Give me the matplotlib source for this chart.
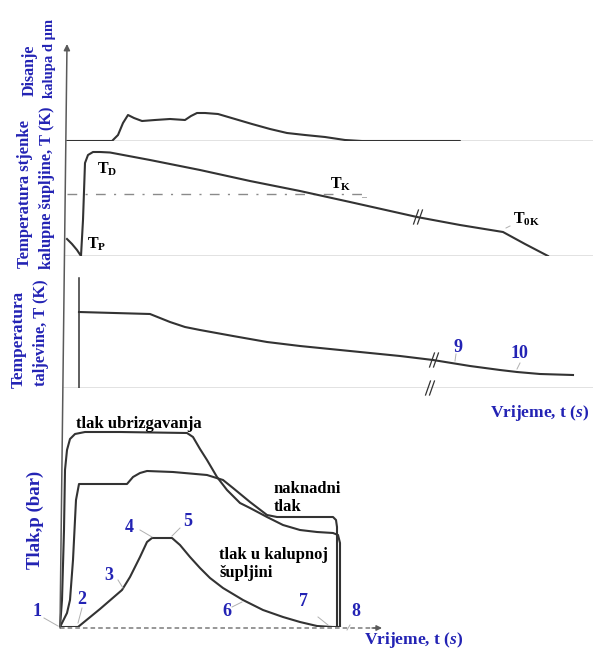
import matplotlib
matplotlib.use("Agg")
import matplotlib.pyplot as plt

plt.rcParams['font.family'] = ['Liberation Serif', 'DejaVu Serif']
plt.rcParams['font.weight'] = 'bold'
plt.rcParams['mathtext.fontset'] = 'custom'
plt.rcParams['mathtext.bf'] = 'Liberation Serif:bold'
plt.rcParams['mathtext.rm'] = 'Liberation Serif:bold'
plt.rcParams['mathtext.it'] = 'Liberation Serif:bold:italic'

# ---------------- data (time in arbitrary units, values = height above baseline) -----
# Panel 1: mould breathing d (µm)
t_breath = [67, 112, 118, 123, 128, 134, 142, 155, 170, 185, 191, 197, 205, 218, 235, 252,
            270, 287, 305, 325, 345, 362, 460]
d_breath = [0, 0, 6, 18, 26, 23, 20, 21, 22, 21, 25, 28, 28, 27, 22, 17, 12, 8, 6, 4, 1, 0, 0]

# Panel 2: mould cavity wall temperature
t_wall = [67, 72, 77, 81, 83, 85, 88, 93, 100, 110, 150, 200, 250, 300, 350, 417, 460, 503,
          525, 548]
T_wall = [17, 12, 6, 0, 36, 93, 101, 104, 104, 103.5, 96, 86, 75, 65, 54, 39, 31, 24, 12, 0]
T_ref_level = 62          # dash-dot reference level
T_ref_span = [67, 365]

# Panel 3: melt temperature
t_melt = [79, 150, 160, 170, 185, 200, 233, 267, 300, 350, 400, 433, 470, 500, 517, 540, 573]
T_melt = [76, 74, 70, 66, 61, 58, 52, 46, 42, 37, 32, 28, 22, 18, 16, 14, 13]
melt_start_line = 110

# Panel 4: pressures
t_inj = [60, 62, 64, 65, 67, 70, 75, 85, 120, 187, 193, 200, 207, 217, 227, 240, 250, 267,
         283, 300, 317, 333, 338, 340, 340]
p_inj = [0, 27, 97, 157, 177, 188, 193, 195, 195, 194, 190, 178, 167, 150, 137, 124, 119, 110,
         102, 97, 95, 94, 92, 84, 0]

t_hold = [60, 67, 70, 73, 76, 79, 90, 110, 127, 133, 140, 147, 173, 207, 223, 233, 250, 267,
          277, 300, 333, 336, 337, 337]
p_hold = [0, 14, 27, 67, 127, 143, 143, 143, 143, 150, 154, 156, 155, 152, 147, 139, 125, 112,
          110, 110, 110, 107, 100, 0]

t_cav = [60, 78, 100, 122, 130, 140, 147, 152, 172, 180, 190, 200, 210, 223, 243, 263, 283,
         300, 317, 333, 340]
p_cav = [0, 0, 18, 37, 50, 70, 85, 89, 89, 82, 70, 59, 49, 39, 27, 17, 10, 5, 1, 0, 0]

point_labels = ['1', '2', '3', '4', '5', '6', '7', '8']
melt_labels = ['9', '10']

# ---------------- layout ------------------------------------------------------------
W, H = 593, 651
fig = plt.figure(figsize=(W / 100, H / 100), dpi=100)
fig.patch.set_facecolor('white')

CURVE = '#333333'
BASE = '#707070'
BLUE = '#2323b4'
LW = 1.5


def panel(base, top):
    ax = fig.add_axes([0, 1 - base / H, 1, (base - top) / H])
    ax.set_xlim(0, W)
    ax.set_ylim(0, base - top)
    ax.axis('off')
    return ax


def break_mark(ax, x, y, size=7, gap=4):
    for dx in (-gap / 2, gap / 2):
        ax.plot([x + dx - size * 0.35, x + dx + size * 0.35], [y - size, y + size],
                color=CURVE, lw=0.9, clip_on=False)


axA = panel(141, 45)
axB = panel(256, 141)
axC = panel(388, 256)
axD = panel(627, 388)
ov = fig.add_axes([0, 0, 1, 1])
ov.set_xlim(0, W)
ov.set_ylim(H, 0)
ov.axis('off')

# baselines
axA.plot([66, W], [0, 0], color=BASE, lw=1.0)
axB.plot([65, W], [0, 0], color=BASE, lw=1.0)
axC.plot([63, W], [0, 0], color=BASE, lw=1.0)

# vertical axis with arrow
ov.annotate('', xy=(67, 44), xytext=(60, 628),
            arrowprops=dict(arrowstyle='-|>', color='#5a5a5a', lw=1.1, mutation_scale=9,
                            shrinkA=0, shrinkB=0))
# bottom time axis (dotted) with arrow
ov.plot([60, 376], [628, 628], color='#7a7a7a', lw=1.1, ls=(0, (3, 2)))
ov.annotate('', xy=(382, 628), xytext=(372, 628),
            arrowprops=dict(arrowstyle='-|>', color='#5a5a5a', lw=1.0, mutation_scale=8,
                            shrinkA=0, shrinkB=0))

# ---- panel A
axA.plot(t_breath, d_breath, color=CURVE, lw=LW, solid_capstyle='round')

# ---- panel B
axB.plot(T_ref_span, [T_ref_level, T_ref_level], color='#8a8a8a', lw=1.0,
         ls=(0, (7, 6, 1.5, 6)))
axB.plot(t_wall, T_wall, color=CURVE, lw=LW, solid_joinstyle='round')
break_mark(axB, 418, 39)

# ---- panel C
axC.plot([t_melt[0], t_melt[0]], [0, melt_start_line], color=CURVE, lw=1.1)
axC.plot(t_melt, T_melt, color=CURVE, lw=LW)
break_mark(axC, 434, 28)
break_mark(axC, 430, 0)

# ---- panel D
axD.plot(t_inj, p_inj, color=CURVE, lw=LW, solid_joinstyle='round')
axD.plot(t_hold, p_hold, color=CURVE, lw=LW, solid_joinstyle='round')
axD.plot(t_cav, p_cav, color=CURVE, lw=LW, solid_joinstyle='round')

# ---------------- texts -------------------------------------------------------------
ylab = dict(color=BLUE, fontsize=12, fontweight='bold', rotation=90, ha='center', va='center')
ov.text(30, 70, 'Disanje', **dict(ylab, fontsize=11.5))
ov.text(49, 58, 'kalupa d µm', **dict(ylab, fontsize=10.5))
ov.text(25, 194, 'Temperatura stjenke', **ylab)
ov.text(47, 188, 'kalupne šupljine, T (K)', **dict(ylab, fontsize=11.8))
ov.text(19, 339, 'Temperatura', **dict(ylab, fontsize=12.4))
ov.text(41, 333, 'taljevine, T (K)', **dict(ylab, fontsize=11.8))
ov.text(35, 520, 'Tlak,p (bar)', **dict(ylab, fontsize=13.5))

ov.text(540, 413, r'Vrijeme, t ($\mathit{s}$)', color=BLUE, fontsize=12.5, ha='center',
        va='center')
ov.text(414, 640, r'Vrijeme, t ($\mathit{s}$)', color=BLUE, fontsize=12.5, ha='center',
        va='center')

tk = dict(color='black', fontsize=11.5, ha='center', va='center')
ov.text(107, 169, r'$\mathbf{T_D}$', **tk)
ov.text(97, 244, r'$\mathbf{T_P}$', **tk)
ov.text(341, 184, r'$\mathbf{T_K}$', **tk)
ov.text(527, 219, r'$\mathbf{T_{0K}}$', **tk)

bk = dict(color='black', fontsize=12, ha='left', va='center')
ov.text(76, 424, 'tlak ubrizgavanja', **bk)
ov.text(274, 489, 'naknadni', **bk)
ov.text(274, 507, 'tlak', **bk)
ov.text(219, 555, 'tlak u kalupnoj', **bk)
ov.text(219, 573, 'šupljini', **bk)

num_pos = [(37, 612), (82, 600), (109, 575), (129, 527), (188, 522), (227, 612), (304, 602),
           (356, 611)]
for lab, (x, y) in zip(point_labels, num_pos):
    ov.text(x, y, lab, color=BLUE, fontsize=13, ha='center', va='center')
for lab, (x, y) in zip(melt_labels, [(458, 347), (519, 354)]):
    ov.text(x, y, lab, color=BLUE, fontsize=13, ha='center', va='center')

# faint leader ticks
leaders = [((44, 618), (58, 626)), ((82, 608), (78, 623)), ((118, 580), (123, 588)),
           ((140, 530), (152, 537)), ((180, 528), (172, 536)), ((232, 607), (242, 602)),
           ((318, 617), (328, 625)), ((350, 625), (347, 630)), ((456, 354), (455, 361)),
           ((520, 363), (517, 369)), ((362, 197), (366, 197)), ((506, 228), (510, 226))]
for (x0, y0), (x1, y1) in leaders:
    ov.plot([x0, x1], [y0, y1], color='#b0b0b0', lw=0.7)

fig.savefig('out.png', dpi=100, facecolor='white')
